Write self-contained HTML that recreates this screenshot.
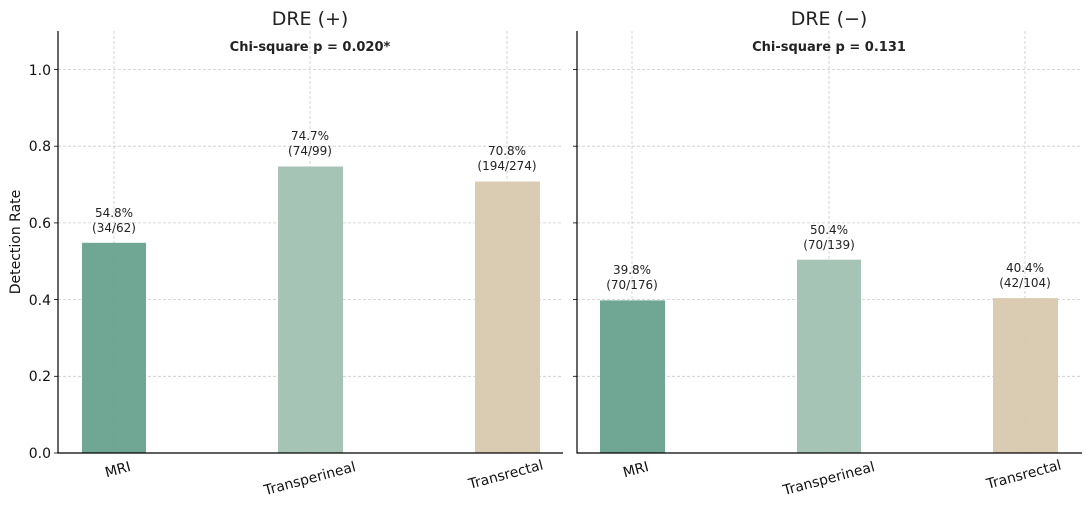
<!DOCTYPE html>
<html><head><meta charset="utf-8"><style>body{margin:0;background:#fff}svg{display:block}</style></head>
<body>
<svg width="1091" height="508" viewBox="0 0 1091 508" xmlns="http://www.w3.org/2000/svg" font-family="'DejaVu Sans','Liberation Sans',sans-serif">
<g stroke="#cccccc" stroke-width="0.8" stroke-dasharray="3,2">
<line x1="58" x2="563" y1="376.3" y2="376.3"/><line x1="58" x2="563" y1="299.6" y2="299.6"/><line x1="58" x2="563" y1="222.9" y2="222.9"/><line x1="58" x2="563" y1="146.2" y2="146.2"/><line x1="58" x2="563" y1="69.5" y2="69.5"/>
<line x1="114" x2="114" y1="31" y2="453"/><line x1="310" x2="310" y1="31" y2="453"/><line x1="507" x2="507" y1="31" y2="453"/>
<line x1="577" x2="1082" y1="376.3" y2="376.3"/><line x1="577" x2="1082" y1="299.6" y2="299.6"/><line x1="577" x2="1082" y1="222.9" y2="222.9"/><line x1="577" x2="1082" y1="146.2" y2="146.2"/><line x1="577" x2="1082" y1="69.5" y2="69.5"/>
<line x1="632" x2="632" y1="31" y2="453"/><line x1="829" x2="829" y1="31" y2="453"/><line x1="1025" x2="1025" y1="31" y2="453"/>
</g>
<g>
<rect x="82" y="242.8" width="64" height="210.2" fill="#6aa391" fill-opacity="0.97"/>
<rect x="278" y="166.5" width="65" height="286.5" fill="#a3c2b3" fill-opacity="0.97"/>
<rect x="475" y="181.5" width="65" height="271.5" fill="#d9c9b1" fill-opacity="0.97"/>
<rect x="600" y="300.4" width="65" height="152.6" fill="#6aa391" fill-opacity="0.97"/>
<rect x="797" y="259.7" width="64" height="193.3" fill="#a3c2b3" fill-opacity="0.97"/>
<rect x="993" y="298.1" width="65" height="154.9" fill="#d9c9b1" fill-opacity="0.97"/>
</g>
<g stroke="#000" stroke-width="1.2" fill="none">
<path d="M58 31 V453 H563"/><path d="M577 31 V453 H1082"/>
</g>
<g stroke="#000" stroke-width="0.8">
<line x1="54" x2="58" y1="453" y2="453"/><line x1="54" x2="58" y1="376.3" y2="376.3"/><line x1="54" x2="58" y1="299.6" y2="299.6"/><line x1="54" x2="58" y1="222.9" y2="222.9"/><line x1="54" x2="58" y1="146.2" y2="146.2"/><line x1="54" x2="58" y1="69.5" y2="69.5"/>
<line x1="573" x2="577" y1="376.3" y2="376.3"/><line x1="573" x2="577" y1="299.6" y2="299.6"/><line x1="573" x2="577" y1="222.9" y2="222.9"/><line x1="573" x2="577" y1="146.2" y2="146.2"/><line x1="573" x2="577" y1="69.5" y2="69.5"/>
</g>
<g font-size="14" fill="#111" text-anchor="end">
<text x="51" y="458">0.0</text><text x="51" y="381">0.2</text><text x="51" y="305">0.4</text><text x="51" y="228">0.6</text><text x="51" y="151">0.8</text><text x="51" y="75">1.0</text>
</g>
<text transform="translate(20,242) rotate(-90)" font-size="14" fill="#111" text-anchor="middle">Detection Rate</text>
<g font-size="19" fill="#222" text-anchor="middle">
<text x="310" y="25">DRE (+)</text><text x="829" y="25">DRE (−)</text>
</g>
<g font-size="13" font-weight="bold" fill="#222" text-anchor="middle">
<text x="310" y="51">Chi-square p = 0.020*</text><text x="829" y="51">Chi-square p = 0.131</text>
</g>
<g font-size="12" fill="#222" text-anchor="middle">
<text x="114" y="217">54.8%</text><text x="114" y="232">(34/62)</text>
<text x="310" y="140">74.7%</text><text x="310" y="155">(74/99)</text>
<text x="507" y="155">70.8%</text><text x="507" y="170">(194/274)</text>
<text x="632" y="274">39.8%</text><text x="632" y="289">(70/176)</text>
<text x="829" y="234">50.4%</text><text x="829" y="249">(70/139)</text>
<text x="1025" y="272">40.4%</text><text x="1025" y="287">(42/104)</text>
</g>
<g font-size="14" fill="#111" text-anchor="middle">
<text transform="translate(119,474) rotate(-15)">MRI</text>
<text transform="translate(311,483) rotate(-15)">Transperineal</text>
<text transform="translate(507,479) rotate(-15)">Transrectal</text>
<text transform="translate(637,474) rotate(-15)">MRI</text>
<text transform="translate(830,483) rotate(-15)">Transperineal</text>
<text transform="translate(1025,479) rotate(-15)">Transrectal</text>
</g>
</svg>
</body></html>
